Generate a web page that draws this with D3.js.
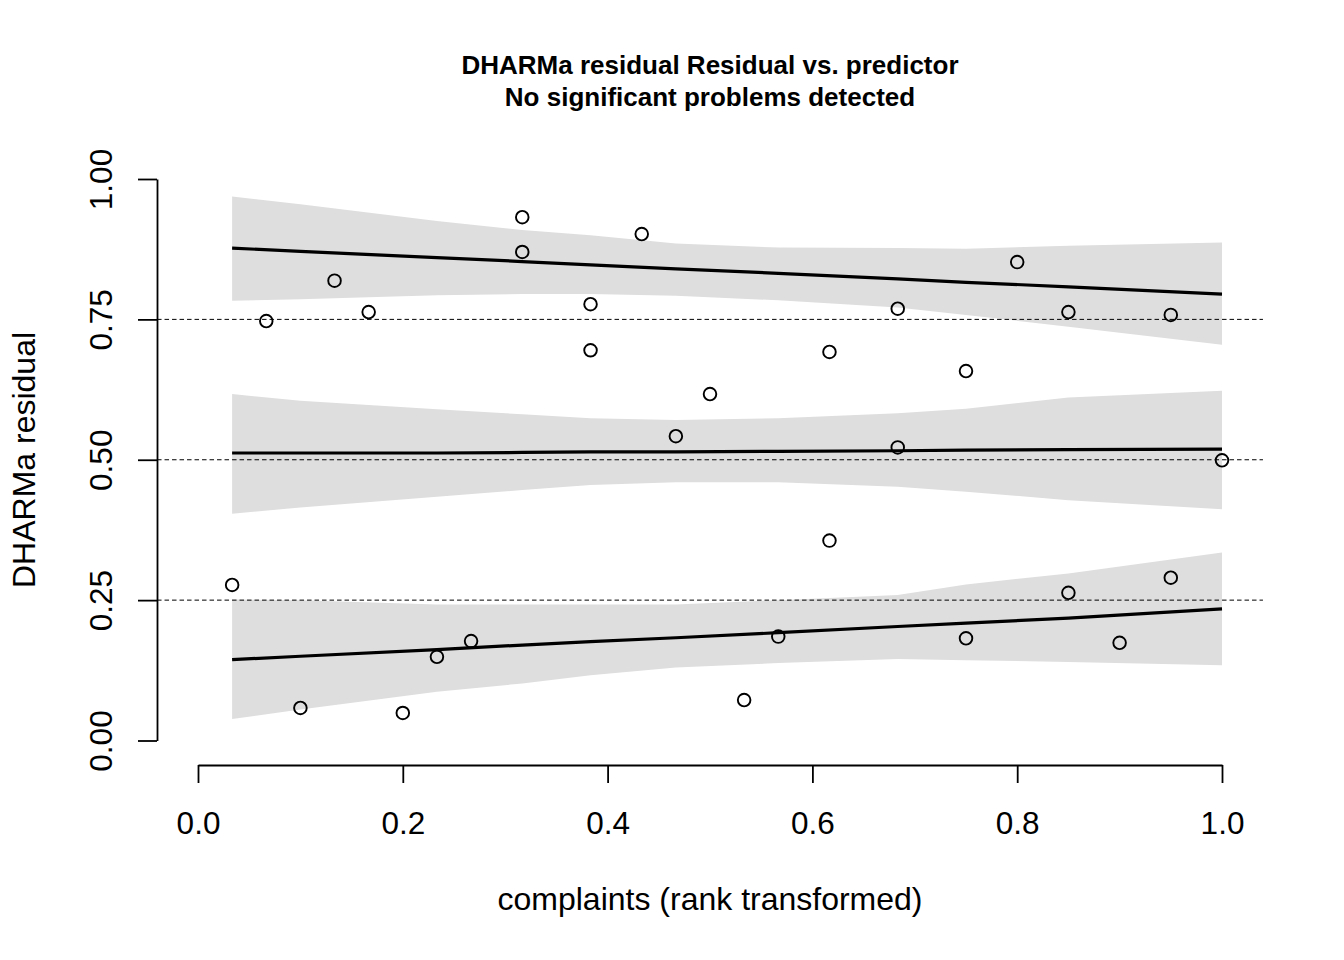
<!DOCTYPE html>
<html>
<head>
<meta charset="utf-8">
<script src="https://cdn.jsdelivr.net/npm/d3@7"></script>
<style>
  body { margin: 0; background: #fff; }
  svg text { font-family: "Liberation Sans", Arial, sans-serif; fill: #000; }
</style>
</head>
<body>
<div id="chart"></div>
<script>
// chart dimensions (R base graphics layout)
const FRAME_WIDTH = 1344;
const FRAME_HEIGHT = 960;
const PLOT = {left: 198, right: 1222, top: 179, bottom: 740.5};

// residuals vs rank transformed predictor
const pointX = [1/30, 2/30, 3/30, 4/30, 5/30, 6/30, 7/30, 8/30,
                9.5/30, 9.5/30, 11.5/30, 11.5/30, 13/30, 14/30, 15/30, 16/30, 17/30,
                18.5/30, 18.5/30, 20.5/30, 20.5/30, 22.5/30, 22.5/30, 24/30,
                25.5/30, 25.5/30, 27/30, 28.5/30, 28.5/30, 30/30];
const pointY = [0.277, 0.747, 0.058, 0.819, 0.763, 0.049, 0.149, 0.177,
                0.932, 0.870, 0.777, 0.695, 0.902, 0.542, 0.617, 0.072, 0.185,
                0.692, 0.356, 0.769, 0.522, 0.658, 0.182, 0.852,
                0.763, 0.263, 0.174, 0.758, 0.290, 0.499];

// quantile regression fits (0.25, 0.5, 0.75) with confidence bands
const fitX = [0.0333, 0.1, 0.2333, 0.3167, 0.3833, 0.4667, 0.5667, 0.6833, 0.75, 0.85, 1.0];

const q75Fit   = [0.877, 0.871, 0.860, 0.853, 0.847, 0.840, 0.832, 0.822, 0.816, 0.808, 0.795];
const q75Upper = [0.969, 0.955, 0.925, 0.909, 0.900, 0.885, 0.878, 0.877, 0.876, 0.881, 0.887];
const q75Lower = [0.783, 0.786, 0.793, 0.795, 0.795, 0.792, 0.784, 0.771, 0.758, 0.737, 0.705];

const q50Fit   = [0.512, 0.512, 0.512, 0.513, 0.514, 0.514, 0.515, 0.516, 0.517, 0.518, 0.519];
const q50Upper = [0.617, 0.605, 0.590, 0.581, 0.574, 0.571, 0.574, 0.583, 0.591, 0.611, 0.623];
const q50Lower = [0.404, 0.415, 0.434, 0.446, 0.455, 0.460, 0.460, 0.452, 0.443, 0.428, 0.412];

const q25Fit   = [0.144, 0.150, 0.162, 0.170, 0.176, 0.183, 0.192, 0.203, 0.209, 0.218, 0.2345];
const q25Upper = [0.251, 0.250, 0.242, 0.242, 0.242, 0.242, 0.250, 0.259, 0.278, 0.2975, 0.335];
const q25Lower = [0.0385, 0.055, 0.087, 0.1015, 0.116, 0.130, 0.138, 0.145, 0.143, 0.140, 0.134];

const quantiles = [0.25, 0.5, 0.75];
const xTicks = [0, 0.2, 0.4, 0.6, 0.8, 1.0];
const yTicks = [0, 0.25, 0.5, 0.75, 1.0];

const titleLines = ["DHARMa residual Residual vs. predictor", "No significant problems detected"];
const xLabel = "complaints (rank transformed)";
const yLabel = "DHARMa residual";

const FRAME = d3.select('#chart')
                .append('svg')
                  .attr('width', FRAME_WIDTH)
                  .attr('height', FRAME_HEIGHT);

const xscale = d3.scaleLinear()
                 .domain([0, 1])
                 .range([PLOT.left, PLOT.right]);
const yscale = d3.scaleLinear()
                 .domain([0, 1])
                 .range([PLOT.bottom, PLOT.top]);

// bands
const bands = [
  {fit: q25Fit, lo: q25Lower, hi: q25Upper},
  {fit: q50Fit, lo: q50Lower, hi: q50Upper},
  {fit: q75Fit, lo: q75Lower, hi: q75Upper}
];

const area = d3.area()
               .x((d) => xscale(d.x))
               .y0((d) => yscale(d.lo))
               .y1((d) => yscale(d.hi));
const line = d3.line()
               .x((d) => xscale(d.x))
               .y((d) => yscale(d.y));

bands.forEach((b) => {
  const rows = fitX.map((x, i) => ({x: x, lo: b.lo[i], hi: b.hi[i]}));
  FRAME.append('path')
       .datum(rows)
       .attr('d', area)
       .attr('fill', '#dedede');
});

bands.forEach((b) => {
  const rows = fitX.map((x, i) => ({x: x, y: b.fit[i]}));
  FRAME.append('path')
       .datum(rows)
       .attr('d', line)
       .attr('fill', 'none')
       .attr('stroke', '#000')
       .attr('stroke-width', 3.2);
});

// dashed reference lines at the quantiles
FRAME.selectAll('.qline')
     .data(quantiles)
     .enter()
     .append('line')
       .attr('x1', xscale(-0.04))
       .attr('x2', xscale(1.04))
       .attr('y1', (d) => yscale(d))
       .attr('y2', (d) => yscale(d))
       .attr('stroke', '#000')
       .attr('stroke-width', 1)
       .attr('stroke-dasharray', '4.5,3');

// points
FRAME.selectAll('.pt')
     .data(pointX.map((x, i) => ({x: x, y: pointY[i]})))
     .enter()
     .append('circle')
       .attr('cx', (d) => xscale(d.x))
       .attr('cy', (d) => yscale(d.y))
       .attr('r', 6.3)
       .attr('fill', 'none')
       .attr('stroke', '#000')
       .attr('stroke-width', 1.9);

// x axis
const xAxis = FRAME.append('g')
     .attr('transform', 'translate(0,765)')
     .call(d3.axisBottom(xscale).tickValues(xTicks).tickSize(18).tickSizeOuter(0)
             .tickFormat(d3.format('.1f')));
xAxis.select('.domain').attr('stroke-width', 1.8);
xAxis.selectAll('line').attr('stroke-width', 1.8);
xAxis.selectAll('text')
     .attr('y', 69)
     .attr('dy', 0)
     .attr('font-size', '31.5px')
     .attr('font-family', '"Liberation Sans", Arial, sans-serif');

// y axis
const yAxis = FRAME.append('g')
     .attr('transform', 'translate(157,0)')
     .call(d3.axisLeft(yscale).tickValues(yTicks).tickSize(19).tickSizeOuter(0)
             .tickFormat(d3.format('.2f')));
yAxis.select('.domain').attr('stroke-width', 1.8);
yAxis.selectAll('line').attr('stroke-width', 1.8);
yAxis.selectAll('text')
     .attr('x', 0)
     .attr('y', 0)
     .attr('dy', 0)
     .attr('text-anchor', 'middle')
     .attr('transform', 'translate(-45,0) rotate(-90)')
     .attr('font-size', '31.5px')
     .attr('font-family', '"Liberation Sans", Arial, sans-serif');

// title
FRAME.selectAll('.title')
     .data(titleLines)
     .enter()
     .append('text')
       .attr('x', 710)
       .attr('y', (d, i) => 74 + i * 31.5)
       .attr('text-anchor', 'middle')
       .attr('font-weight', 'bold')
       .attr('font-size', '26px')
       .text((d) => d);

// axis labels
FRAME.append('text')
     .attr('x', 710)
     .attr('y', 910)
     .attr('text-anchor', 'middle')
     .attr('font-size', '32px')
     .text(xLabel);

FRAME.append('text')
     .attr('transform', 'translate(35,460) rotate(-90)')
     .attr('text-anchor', 'middle')
     .attr('font-size', '32px')
     .text(yLabel);
</script>
</body>
</html>
